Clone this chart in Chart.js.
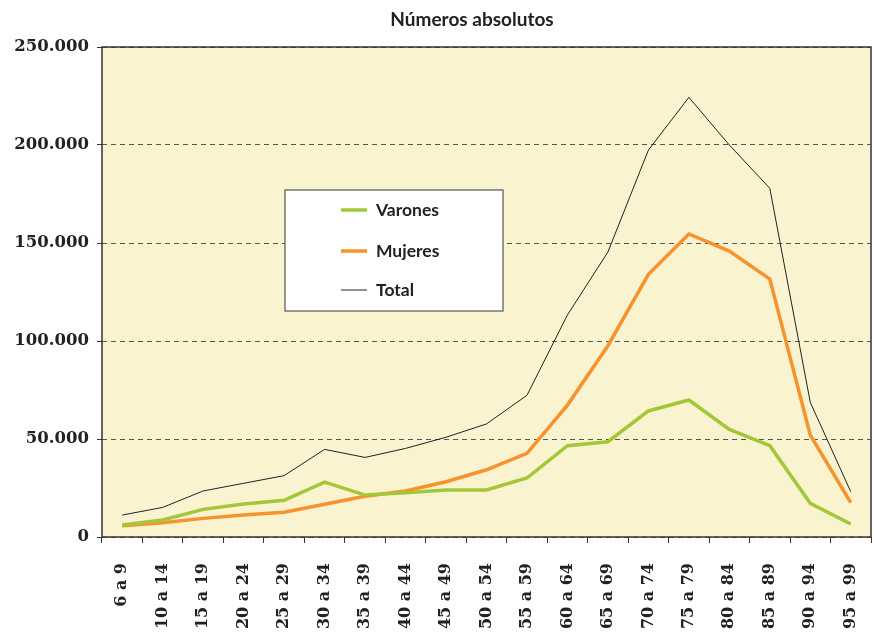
<!DOCTYPE html>
<html>
<head>
<meta charset="utf-8">
<script src="https://cdn.jsdelivr.net/npm/chart.js@4.4.0/dist/chart.umd.min.js"></script>
<style>
  html, body { margin: 0; padding: 0; background: #fff; }
  #wrap { width: 874px; height: 635px; position: relative; }
</style>
</head>
<body>
<div id="wrap"><canvas id="chart" width="874" height="635"></canvas></div>
<script>
const chartTitle = "Números absolutos";
const ageGroups = ["6 a 9", "10 a 14", "15 a 19", "20 a 24", "25 a 29", "30 a 34", "35 a 39", "40 a 44", "45 a 49", "50 a 54",
    "55 a 59", "60 a 64", "65 a 69", "70 a 74", "75 a 79", "80 a 84", "85 a 89", "90 a 94", "95 a 99"];
const varones = [6100, 8700, 14100, 16800, 18700, 28000, 21400, 22600, 24000, 24000,
    30100, 46600, 48600, 64300, 69900, 54900, 46600, 17200, 6600];
const mujeres = [5800, 7300, 9500, 11200, 12600, 16700, 20800, 23500, 28200, 34300,
    42700, 67300, 97600, 134000, 154600, 145900, 131600, 52000, 17500];
const total = [11200, 15100, 23500, 27400, 31300, 44700, 40600, 45200, 50900, 57700,
    72300, 113300, 145400, 197400, 224300, 200000, 177900, 68700, 23100];
const yTicks = [0, 50000, 100000, 150000, 200000, 250000];

function miles(v) {
    return String(v).replace(/\B(?=(\d{3})+(?!\d))/g, ".");
}

const plotFrame = {
    id: "plotFrame",
    beforeDraw(chart) {
        const { ctx, chartArea: a } = chart;
        ctx.save();
        ctx.fillStyle = "#f9f3cf";
        ctx.fillRect(a.left, a.top, a.right - a.left, a.bottom - a.top);
        ctx.restore();
    },
    afterDraw(chart) {
        const { ctx, chartArea: a } = chart;
        ctx.save();
        ctx.strokeStyle = "#333";
        ctx.lineWidth = 1.5;
        ctx.setLineDash([]);
        ctx.strokeRect(a.left, a.top, a.right - a.left, a.bottom - a.top);

        // title
        ctx.fillStyle = "#222";
        ctx.font = "bold 19px Lato";
        ctx.textAlign = "center";
        ctx.textBaseline = "alphabetic";
        ctx.fillText(chartTitle, 472, 26);

        // legend box
        const bx = 285, by = 190, bw = 218, bh = 121;
        ctx.fillStyle = "#fff";
        ctx.fillRect(bx, by, bw, bh);
        ctx.strokeStyle = "#555";
        ctx.lineWidth = 1.2;
        ctx.strokeRect(bx, by, bw, bh);
        const rows = [20, 61, 100];
        ctx.textAlign = "left";
        chart.data.datasets.forEach((ds, i) => {
            const y = by + rows[i];
            ctx.strokeStyle = ds.borderColor;
            ctx.lineWidth = ds.borderWidth;
            ctx.beginPath();
            ctx.moveTo(bx + 56, y);
            ctx.lineTo(bx + 82, y);
            ctx.stroke();
            ctx.fillStyle = "#222";
            ctx.font = "bold 17.5px Lato";
            ctx.textBaseline = "middle";
            ctx.fillText(ds.label, bx + 91, y);
        });
        ctx.restore();
    }
};

new Chart(document.getElementById("chart"), {
    type: "line",
    data: {
        labels: ageGroups,
        datasets: [
            { label: "Varones", data: varones, borderColor: "#a4c73a", borderWidth: 3.5 },
            { label: "Mujeres", data: mujeres, borderColor: "#f7922d", borderWidth: 3.5 },
            { label: "Total", data: total, borderColor: "#222222", borderWidth: 1 },
        ],
    },
    options: {
        responsive: false,
        animation: false,
        elements: { point: { radius: 0 }, line: { tension: 0 } },
        layout: { padding: { left: 0, right: 3, top: 47, bottom: 0 } },
        plugins: {
            legend: { display: false },
            tooltip: { enabled: false },
            title: { display: false },
        },
        scales: {
            x: {
                offset: true,
                grid: { offset: true, drawOnChartArea: false, drawTicks: true, tickLength: 6, tickColor: "#333", tickWidth: 1 },
                border: { display: false },
                ticks: {
                    color: "#222",
                    font: { family: "DejaVu Serif", size: 16, weight: "bold" },
                    maxRotation: 90,
                    minRotation: 90,
                    padding: 20,
                    autoSkip: false,
                },
                afterFit(scale) {
                    scale.height = 98;
                    scale.paddingLeft = 0;
                    scale.paddingRight = 0;
                },
            },
            y: {
                min: 0,
                max: 250000,
                afterBuildTicks(scale) { scale.ticks = yTicks.map(v => ({ value: v })); },
                grid: { color: "#555", lineWidth: 1, tickLength: 5, tickColor: "#333", tickBorderDash: [], drawTicks: true },
                border: { display: false, dash: [5, 4] },
                ticks: {
                    color: "#222",
                    font: { family: "DejaVu Serif", size: 16.5, weight: "bold" },
                    padding: 8,
                    callback: v => miles(v),
                },
                afterFit(scale) { scale.width = 102; },
            },
        },
    },
    plugins: [plotFrame],
});
</script>
</body>
</html>
